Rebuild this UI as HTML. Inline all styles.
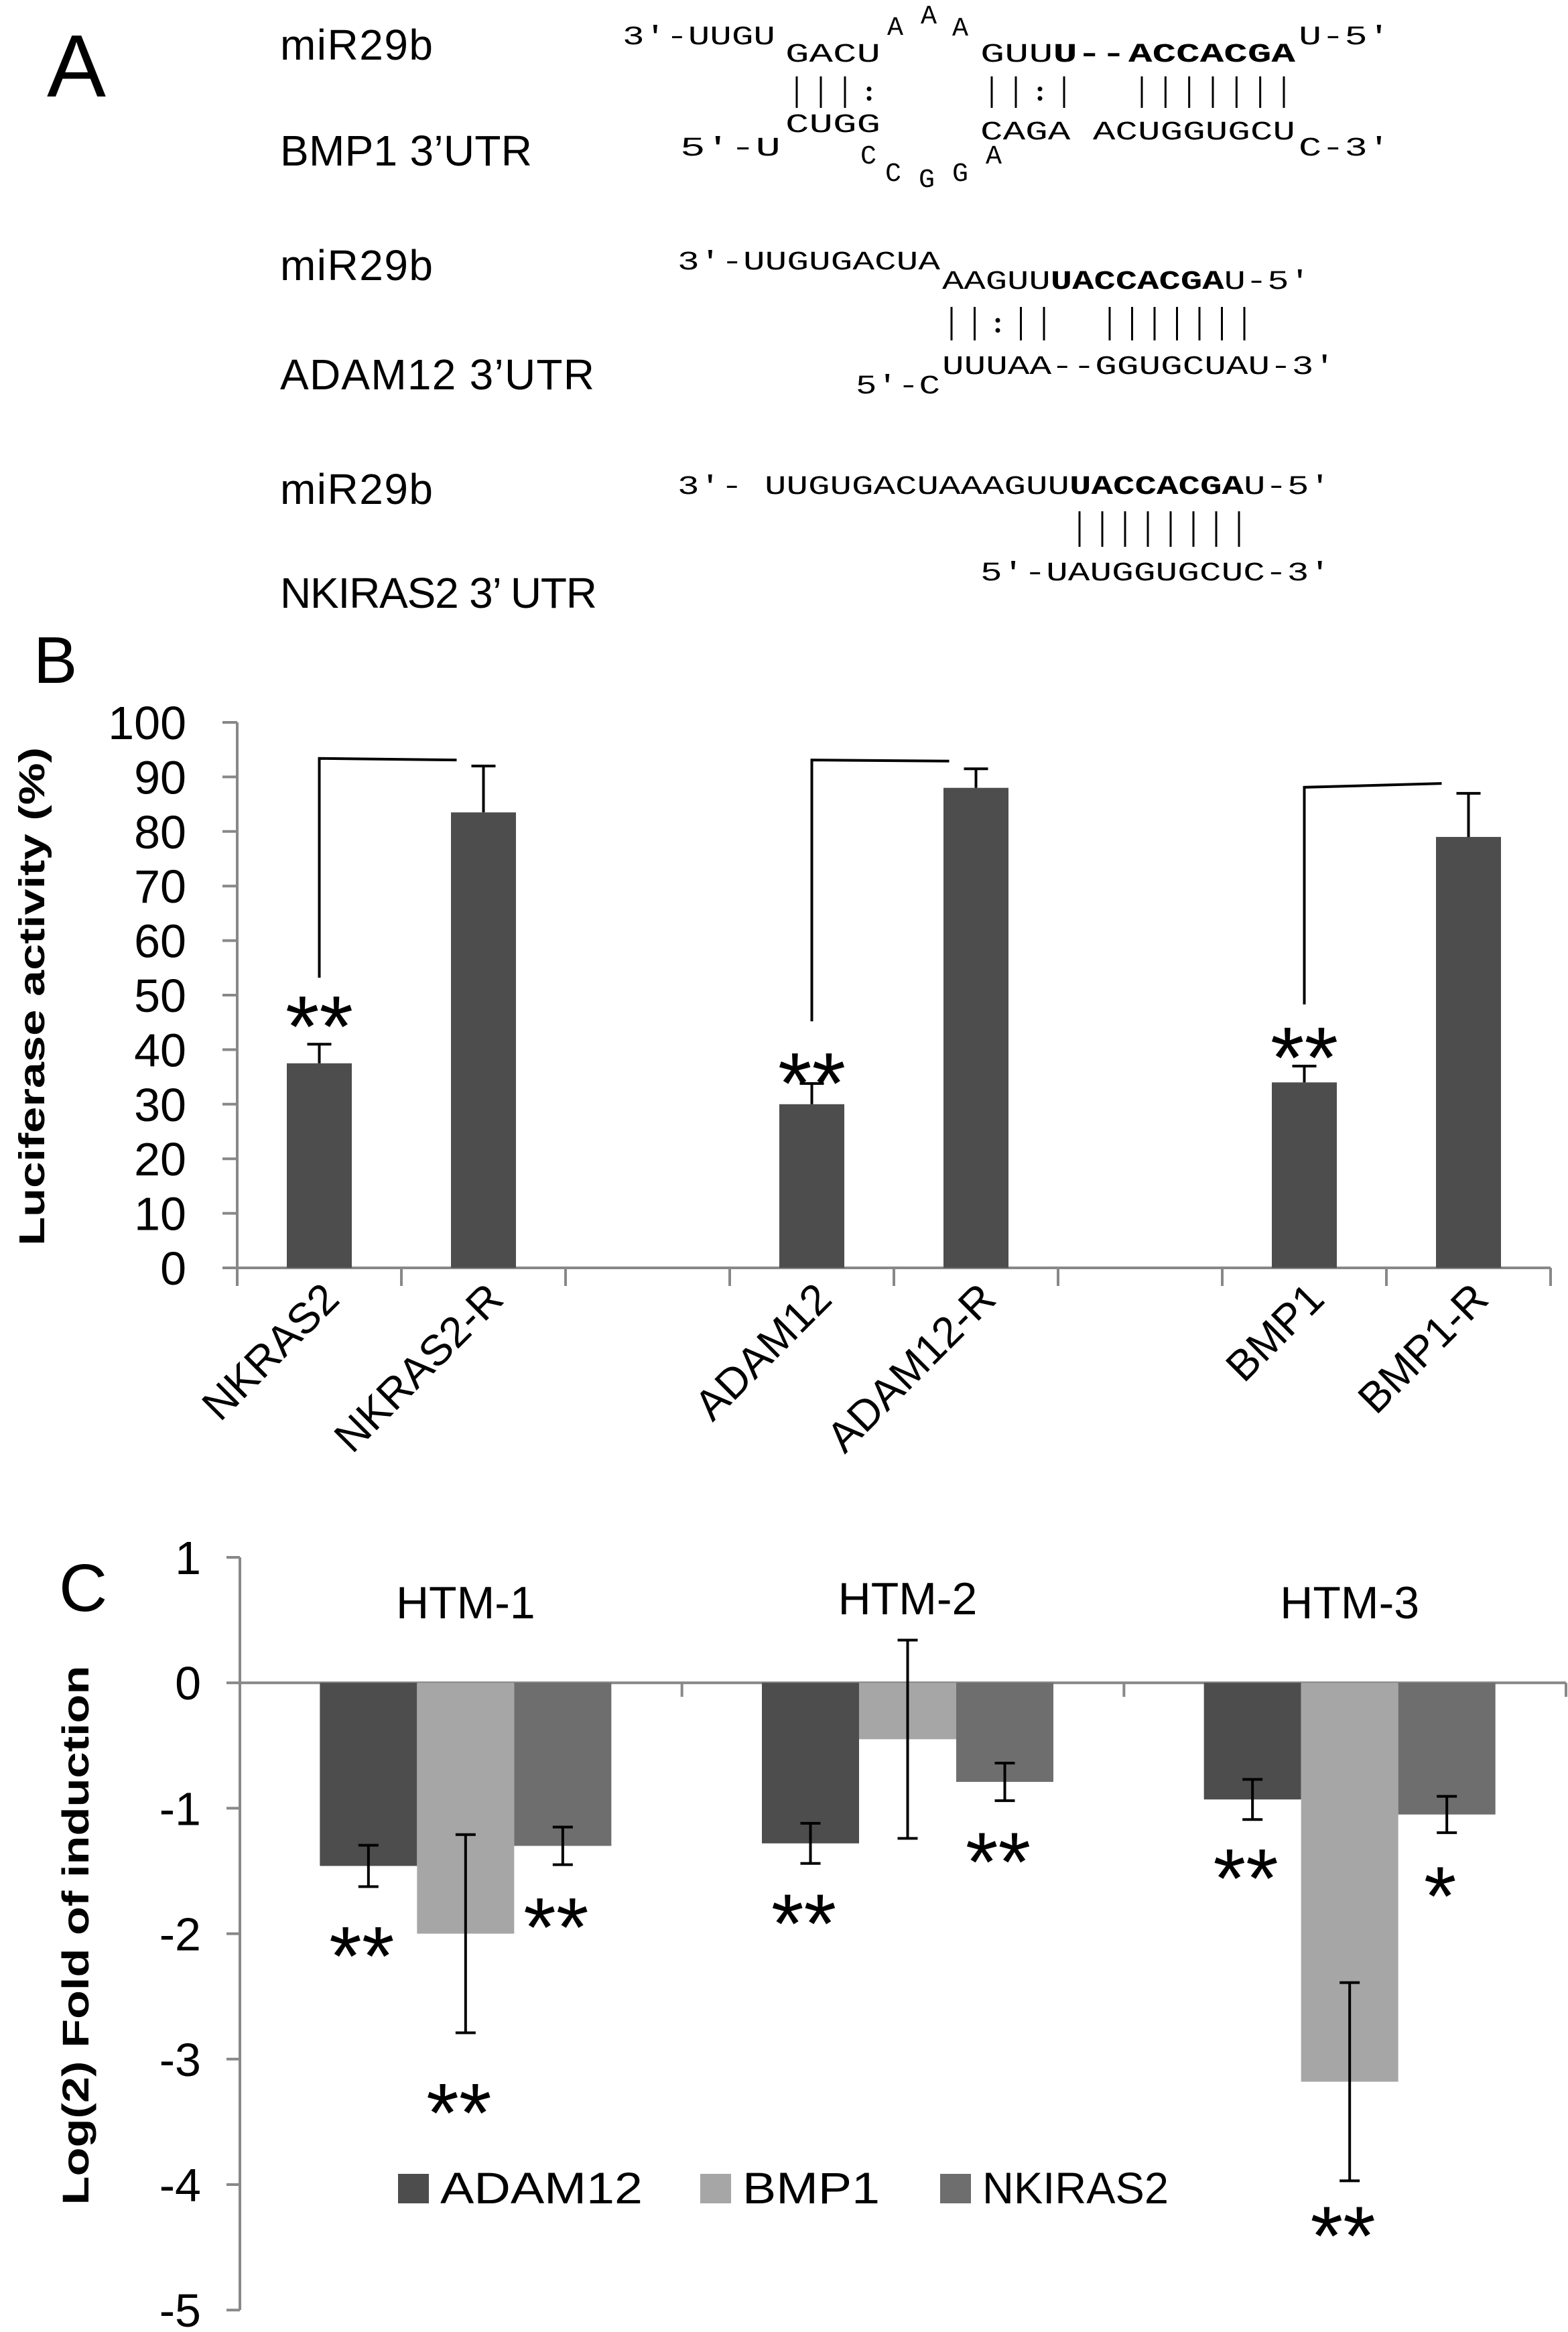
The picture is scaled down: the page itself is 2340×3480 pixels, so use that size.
<!DOCTYPE html>
<html><head><meta charset="utf-8"><style>
html,body{margin:0;padding:0;background:#fff;}
svg{display:block;font-family:"Liberation Sans",sans-serif;}
.seq{font-family:"Liberation Mono",monospace;font-size:40px;fill:#000;}
.b{font-weight:bold;}
</style></head><body>
<svg id="fig" width="2340" height="3480" viewBox="0 0 2340 3480" xmlns="http://www.w3.org/2000/svg">
<rect width="2340" height="3480" fill="#fff"/>
<!-- Panel A -->
<g id="panelA">
<text x="70" y="144" font-size="132">A</text>
<text x="418" y="89" font-size="64" textLength="228">miR29b</text>
<text x="418" y="247" font-size="64" textLength="376">BMP1 3’UTR</text>
<text x="418" y="418" font-size="64" textLength="228">miR29b</text>
<text x="418" y="581" font-size="64" textLength="469">ADAM12 3’UTR</text>
<text x="418" y="752" font-size="64" textLength="228">miR29b</text>
<text x="418" y="907" font-size="64" textLength="473">NKIRAS2 3’ UTR</text>

<g>
<text class="seq" x="929" y="66" textLength="228" lengthAdjust="spacingAndGlyphs">3′-UUGU</text>
<text class="seq" x="1172" y="92" textLength="142" lengthAdjust="spacingAndGlyphs">GACU</text>
<text class="seq" x="1324" y="52">A</text>
<text class="seq" x="1374" y="35">A</text>
<text class="seq" x="1421" y="53">A</text>
<text class="seq" x="1463" y="92" textLength="217" lengthAdjust="spacingAndGlyphs">GUU<tspan class="b">U--</tspan></text>
<text class="seq b" x="1684" y="92" textLength="249" lengthAdjust="spacingAndGlyphs">ACCACGA</text>
<text class="seq" x="1938" y="66" textLength="137" lengthAdjust="spacingAndGlyphs">U-5′</text>
<text class="seq" x="1015" y="232" textLength="150" lengthAdjust="spacingAndGlyphs">5′-U</text>
<text class="seq" x="1172" y="197" textLength="142" lengthAdjust="spacingAndGlyphs">CUGG</text>
<text class="seq" x="1284" y="244">C</text>
<text class="seq" x="1321" y="270">C</text>
<text class="seq" x="1371" y="279">G</text>
<text class="seq" x="1421" y="270">G</text>
<text class="seq" x="1471" y="244">A</text>
<text class="seq" x="1463" y="208" textLength="470" lengthAdjust="spacingAndGlyphs">CAGA ACUGGUGCU</text>
<text class="seq" x="1938" y="232" textLength="137" lengthAdjust="spacingAndGlyphs">C-3′</text>
</g>
<g>
<text class="seq" x="1011" y="402" textLength="392" lengthAdjust="spacingAndGlyphs">3′-UUGUGACUA</text>
<text class="seq" x="1406" y="431" textLength="550" lengthAdjust="spacingAndGlyphs">AAGUU<tspan class="b">UACCACGA</tspan>U-5′</text>
<text class="seq" x="1277" y="587" textLength="126" lengthAdjust="spacingAndGlyphs">5′-C</text>
<text class="seq" x="1406" y="558" textLength="587" lengthAdjust="spacingAndGlyphs">UUUAA--GGUGCUAU-3′</text>
</g>
<g>
<text class="seq" x="1011" y="737" textLength="975" lengthAdjust="spacingAndGlyphs">3′- UUGUGACUAAAGUU<tspan class="b">UACCACGA</tspan>U-5′</text>
<text class="seq" x="1463" y="866" textLength="523" lengthAdjust="spacingAndGlyphs">5′-UAUGGUGCUC-3′</text>
</g>
<g id="pairs" stroke="#000" stroke-width="3"></g>
</g>

<!-- Panel B -->
<g id="panelB">
<text x="50" y="1019" font-size="98">B</text>
<text transform="translate(66,1487) rotate(-90)" text-anchor="middle" font-size="54" font-weight="bold" textLength="744" lengthAdjust="spacingAndGlyphs">Luciferase activity (%)</text>
</g>
<!-- Panel C -->
<g id="panelC">
<text x="88" y="2404" font-size="100">C</text>
<text transform="translate(132,2888) rotate(-90)" text-anchor="middle" font-size="56" font-weight="bold" textLength="805" lengthAdjust="spacingAndGlyphs">Log(2) Fold of induction</text>
</g>
</svg>
<script>
const NS='http://www.w3.org/2000/svg';
// ---- Panel B data ----
const bCategories=['NKRAS2','NKRAS2-R','','ADAM12','ADAM12-R','','BMP1','BMP1-R'];
const bValues=[37.5,83.5,null,30,88,null,34,79];
const bErrors=[3.5,8.5,null,3.8,3.5,null,3,8];
const bTicks=[0,10,20,30,40,50,60,70,80,90,100];
const bStars=['**','','','**','','','**',''];
const bStarTop=[50.4,null,null,40,null,null,44.7,null];
const bBracketFrom=[0,3,6];
const bBracketLow=[53.2,45.2,48.3];
const bBracketHigh=[93.4,93.1,88.1];
const bBracketTo=[1,4,7];
const bBracketEnd=[93.1,92.9,88.8];
// ---- Panel C data ----
const cGroups=['HTM-1','HTM-2','HTM-3'];
const cSeries=['ADAM12','BMP1','NKIRAS2'];
const cADAM12=[-1.46,-1.28,-0.93];
const cBMP1=[-2.0,-0.45,-3.18];
const cNKIRAS2=[-1.30,-0.79,-1.05];
const cErrADAM12=[0.165,0.16,0.16];
const cErrBMP1=[0.79,0.79,0.79];
const cErrNKIRAS2=[0.15,0.15,0.145];
const cTicks=[1,0,-1,-2,-3,-4,-5];
const cStars=[['**','**','**'],['**','','**'],['**','**','*']];
const cStarTop=[[-1.92,-3.17,-1.69],[-1.66,null,-1.17],[-1.30,-4.15,-1.44]];

const svg=document.getElementById('fig');
function mk(tag,attrs,parent){const e=document.createElementNS(NS,tag);for(const k in attrs)e.setAttribute(k,attrs[k]);parent.appendChild(e);return e;}

// base pair marks panel A
const pairs=document.getElementById('pairs');
function pipes(x0,x1,n,y0,y1,colonIdx){for(let i=0;i<n;i++){const x=x0+(x1-x0)*i/(n-1);
 if(i===colonIdx){const c1=mk('circle',{cx:x,cy:y0+(y1-y0)*0.4,r:3.5,fill:'#000',stroke:'none'},pairs);
 
 
 const c2=mk('circle',{cx:x,cy:y0+(y1-y0)*0.7,r:3.5,fill:'#000',stroke:'none'},pairs);
 
 }
 else{const l=mk('line',{x1:x,x2:x,y1:y0,y2:y1},pairs);
 
 }}}
pipes(1189,1297,4,114,161,3);pipes(1480,1588,4,114,161,2);pipes(1704,1916,7,114,161,-1);
pipes(1420,1558,5,458,508,2);pipes(1656,1857,7,458,508,-1);
pipes(1611,1849,8,763,816,-1);

// ---- Panel B chart ----
const gB=document.getElementById('panelB');
const bX0=354,bX1=2314,bY0=1892,bPer=81.4;
const bBand=(bX1-bX0)/bCategories.length;
const yB=v=>bY0-v*bPer/10;
const xB=i=>bX0+(i+0.5)*bBand;
const axB=mk('g',{stroke:'#888','stroke-width':4},gB);


mk('line',{x1:bX0,x2:bX0,y1:yB(100),y2:bY0},axB);
mk('line',{x1:bX0,x2:bX1,y1:bY0,y2:bY0},axB);
bTicks.forEach(t=>{mk('line',{x1:bX0-22,x2:bX0,y1:yB(t),y2:yB(t)},axB);
 const tx=mk('text',{x:278,y:yB(t)+25,'text-anchor':'end','font-size':70},gB);tx.textContent=t;
 
 });
for(let i=0;i<=bCategories.length;i++)mk('line',{x1:bX0+i*bBand,x2:bX0+i*bBand,y1:bY0,y2:bY0+27},axB);
bCategories.forEach((c,i)=>{
 if(bValues[i]!==null){const r=mk('rect',{x:xB(i)-48.5,y:yB(bValues[i]),width:97,height:bY0-yB(bValues[i]),fill:'#4d4d4d'},gB);
  
  
  const eg=mk('g',{stroke:'#000','stroke-width':4},gB);
  
  
  const top=yB(bValues[i]+bErrors[i]);
  mk('line',{x1:xB(i),x2:xB(i),y1:yB(bValues[i]),y2:top},eg);
  mk('line',{x1:xB(i)-18,x2:xB(i)+18,y1:top,y2:top},eg);}
 if(c){const t=mk('text',{transform:`translate(${xB(i)+33},${bY0+50}) rotate(-45)`,'text-anchor':'end','font-size':64},gB);t.textContent=c;
  
  }
 if(bStars[i]){const s=mk('text',{x:xB(i),y:yB(bStarTop[i])+95,'text-anchor':'middle','font-size':130},gB);s.textContent=bStars[i];
  
  }
});
bBracketFrom.forEach((f,k)=>{const p=mk('polyline',{points:`${xB(f)},${yB(bBracketLow[k])} ${xB(f)},${yB(bBracketHigh[k])} ${xB(bBracketTo[k])-40},${yB(bBracketEnd[k])}`,fill:'none',stroke:'#000','stroke-width':4},gB);
 
 });

// ---- Panel C chart ----
const gC=document.getElementById('panelC');
const cX0=358,cX1=2337,cYtop=2324,cPer=187.2;
const yC=v=>cYtop+(1-v)*cPer;
const cBand=(cX1-cX0)/cGroups.length;
const barW=145;
const axC=mk('g',{stroke:'#888','stroke-width':4},gC);


mk('line',{x1:cX0,x2:cX0,y1:yC(1),y2:yC(-5)},axC);
mk('line',{x1:cX0,x2:cX1,y1:yC(0),y2:yC(0)},axC);
cTicks.forEach(t=>{mk('line',{x1:cX0-20,x2:cX0,y1:yC(t),y2:yC(t)},axC);
 const tx=mk('text',{x:300,y:yC(t)+25,'text-anchor':'end','font-size':70},gC);tx.textContent=t;
 
 });
for(let i=1;i<=cGroups.length;i++)mk('line',{x1:cX0+i*cBand,x2:cX0+i*cBand,y1:yC(0),y2:yC(0)+21},axC);
const cVals=[cADAM12,cBMP1,cNKIRAS2],cErrs=[cErrADAM12,cErrBMP1,cErrNKIRAS2],cCols=['#4d4d4d','#a6a6a6','#6e6e6e'];
cGroups.forEach((g,gi)=>{
 const cx=cX0+(gi+0.5)*cBand+7;
 const lbl=mk('text',{x:cx,y:gi===1?2409:2415,'text-anchor':'middle','font-size':68},gC);lbl.textContent=g;
 
 
 cSeries.forEach((s,si)=>{
  const v=cVals[si][gi],e=cErrs[si][gi];const bx=cx+(si-1.5)*barW;const mid=bx+barW/2;
  const r=mk('rect',{x:bx,y:Math.min(yC(0),yC(v)),width:barW,height:Math.abs(yC(v)-yC(0)),fill:cCols[si]},gC);
  
  
  const eg=mk('g',{stroke:'#000','stroke-width':4},gC);
  
  
  mk('line',{x1:mid,x2:mid,y1:yC(v+e),y2:yC(v-e)},eg);
  mk('line',{x1:mid-15,x2:mid+15,y1:yC(v+e),y2:yC(v+e)},eg);
  mk('line',{x1:mid-15,x2:mid+15,y1:yC(v-e),y2:yC(v-e)},eg);
  if(cStars[gi][si]){const st=mk('text',{x:mid-10,y:yC(cStarTop[gi][si])+92,'text-anchor':'middle','font-size':125},gC);st.textContent=cStars[gi][si];
   
   }
 });
});
// legend
const legX=[594,1045,1403],legTL=[302,205,278];
cSeries.forEach((s,si)=>{
 const lr=mk('rect',{x:legX[si],y:3244,width:46,height:44,fill:cCols[si]},gC);
 
 
 const lt=mk('text',{x:legX[si]+63,y:3288,'font-size':66,textLength:legTL[si],lengthAdjust:'spacingAndGlyphs'},gC);lt.textContent=s;
 
 
});
</script>
</body></html>
